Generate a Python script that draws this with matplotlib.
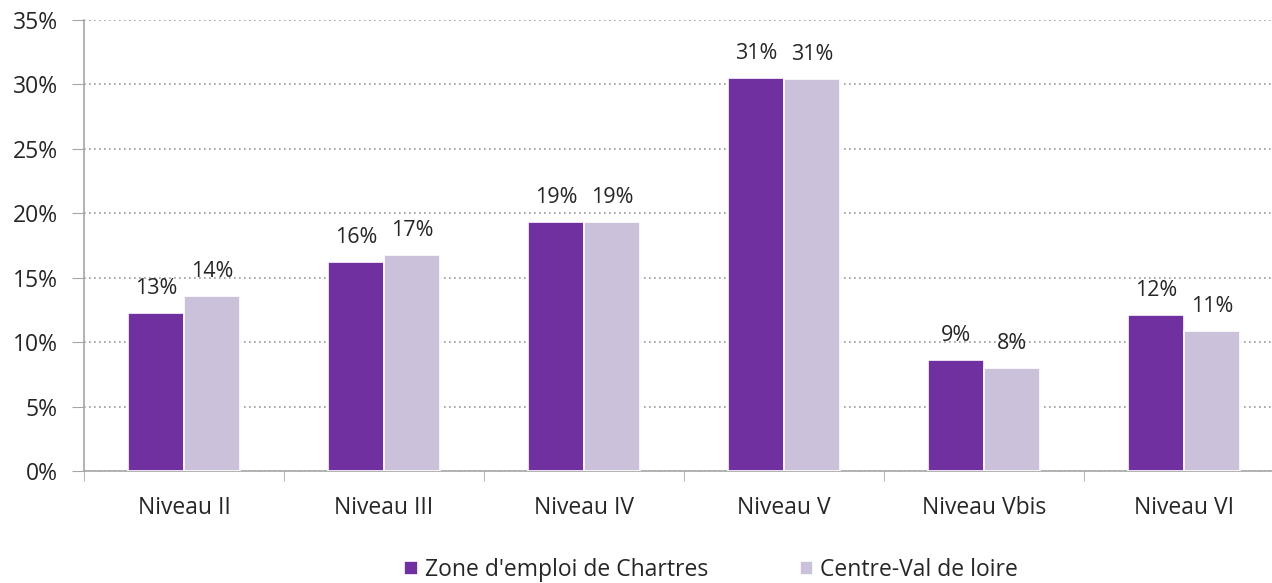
import numpy as np
import matplotlib.pyplot as plt

plt.rcParams['font.family'] = ['Open Sans', 'DejaVu Sans']

categories = ['Niveau II', 'Niveau III', 'Niveau IV', 'Niveau V', 'Niveau Vbis', 'Niveau VI']
chartres = [12.3, 16.2, 19.3, 30.5, 8.6, 12.1]
centre = [13.6, 16.8, 19.3, 30.4, 8.0, 10.9]
labels_chartres = ['13%', '16%', '19%', '31%', '9%', '12%']
labels_centre = ['14%', '17%', '19%', '31%', '8%', '11%']
series_names = ["Zone d'emploi de Chartres", 'Centre-Val de loire']

purple = '#7030A0'
lavender = '#CCC1DA'
grey = '#A6A6A6'

fig = plt.figure(figsize=(12.72, 5.83), dpi=100)
ax = fig.add_axes([84 / 1272, 112 / 583, 1200 / 1272, 451 / 583])

x = np.arange(len(categories))
w = 0.28
b1 = ax.bar(x - w / 2, chartres, w, color=purple, edgecolor='white', linewidth=1.2,
            label=series_names[0], zorder=3)
b2 = ax.bar(x + w / 2, centre, w, color=lavender, edgecolor='white', linewidth=1.2,
            label=series_names[1], zorder=3)

for bars, labs in [(b1, labels_chartres), (b2, labels_centre)]:
    for bar, lab in zip(bars, labs):
        ax.annotate(lab, (bar.get_x() + bar.get_width() / 2, bar.get_height()),
                    xytext=(0, 10), textcoords='offset points', ha='center',
                    va='bottom', fontsize=15.5, color='#262626')

ax.set_xlim(-0.5, len(categories) - 0.5)
ax.set_ylim(0, 35)
ax.set_yticks(range(0, 40, 5))
ax.set_yticklabels([f'{v}%' for v in range(0, 40, 5)])
ax.yaxis.grid(True, linestyle=(0, (1, 2)), color='#999999', linewidth=1.2, zorder=0)
ax.set_axisbelow(True)

ax.set_xticks(x)
ax.set_xticklabels(categories)
ax.set_xticks(np.arange(-0.5, len(categories), 1), minor=True)
ax.tick_params(axis='x', which='major', length=0, pad=18)
ax.tick_params(axis='x', which='minor', length=7, color=grey, direction='out')
ax.tick_params(axis='y', length=9, color=grey, pad=10)
ax.tick_params(labelsize=16.5, labelcolor='#262626')

for s in ['top', 'right']:
    ax.spines[s].set_visible(False)
for s in ['left', 'bottom']:
    ax.spines[s].set_color(grey)
    ax.spines[s].set_linewidth(1.2)

fig.legend(handles=[b1, b2], loc='center', bbox_to_anchor=(0.559, 0.022), ncol=2,
           frameon=False, fontsize=16.5, handlelength=0.6, handleheight=0.6,
           handletextpad=0.3, columnspacing=4.0, labelcolor='#262626')

fig.savefig('out.png', dpi=100)
